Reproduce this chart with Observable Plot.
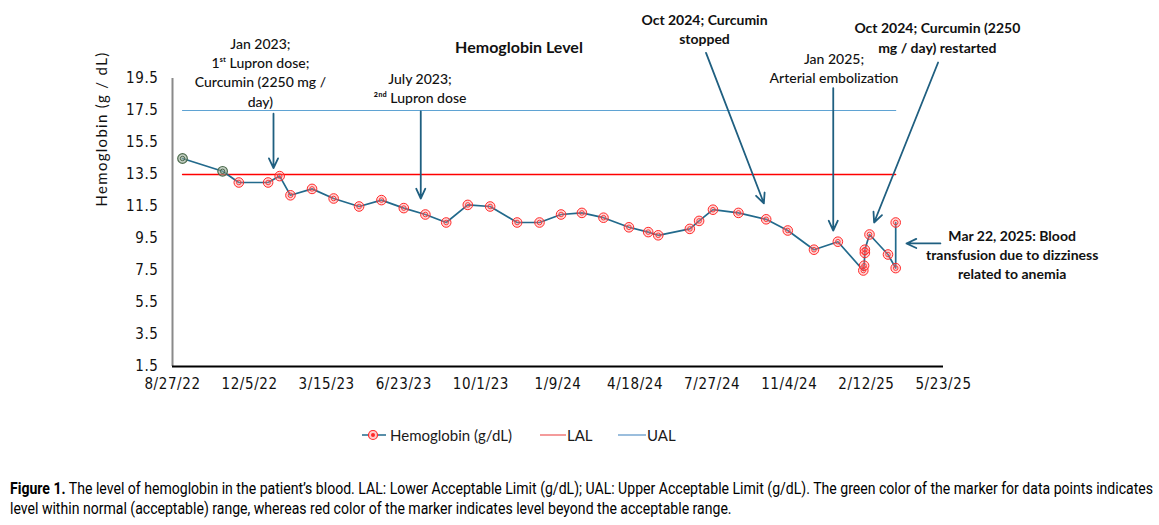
<!DOCTYPE html>
<html>
<head>
<meta charset="utf-8">
<script src="https://cdn.jsdelivr.net/npm/d3@7"></script>
<script src="https://cdn.jsdelivr.net/npm/@observablehq/plot@0.6"></script>
<style>
  html, body { margin: 0; padding: 0; background: #fff; }
  body { width: 1159px; height: 525px; position: relative; overflow: hidden; }
  #chart { position: absolute; left: 0; top: 0; }
  .leg { position: absolute; top: 425px; height: 20px; font-family: Lato, "Open Sans", sans-serif; font-size: 15px; color: #1a1a1a; line-height: 20px; white-space: nowrap; }
  .leg svg { position: absolute; top: 0; }
  .cap { position: absolute; left: 10px; font-family: Roboto, "Liberation Sans", sans-serif; font-size: 17px; line-height: 20px; color: #000; white-space: nowrap; transform-origin: 0 0; }
</style>
</head>
<body>
<div id="chart"></div>
<div class="leg" style="left:360px;width:160px;">
  <svg width="28" height="20" style="left:0"><line x1="2" y1="10" x2="26" y2="10" stroke="#226a8c" stroke-width="1.5"/><circle cx="13" cy="10" r="4.5" fill="#ffcccc" stroke="#ff2a2a" stroke-width="1.2"/><circle cx="13" cy="10" r="2" fill="#ff2a2a"/></svg>
  <span style="position:absolute;left:30px;">Hemoglobin (g/dL)</span>
</div>
<div class="leg" style="left:540px;width:60px;">
  <svg width="28" height="20" style="left:0"><line x1="0" y1="10" x2="26" y2="10" stroke="#f07a7a" stroke-width="1.5"/></svg>
  <span style="position:absolute;left:27px;">LAL</span>
</div>
<div class="leg" style="left:618px;width:60px;">
  <svg width="30" height="20" style="left:0"><line x1="0" y1="10" x2="28" y2="10" stroke="#7aa9d2" stroke-width="1.5"/></svg>
  <span style="position:absolute;left:29px;">UAL</span>
</div>
<div class="cap" id="cap1" style="top:478px;"><b>Figure 1.</b> The level of hemoglobin in the patient’s blood. LAL: Lower Acceptable Limit (g/dL); UAL: Upper Acceptable Limit (g/dL). The green color of the marker for data points indicates</div>
<div class="cap" id="cap2" style="top:498px;">level within normal (acceptable) range, whereas red color of the marker indicates level beyond the acceptable range.</div>
<script>
// ---- data ----
const dates = [
  "2022-09-09","2022-10-31","2022-11-21","2022-12-29","2023-01-13","2023-01-27",
  "2023-02-24","2023-03-24","2023-04-26","2023-05-25","2023-06-23","2023-07-21",
  "2023-08-17","2023-09-14","2023-10-13","2023-11-17","2023-12-16","2024-01-13",
  "2024-02-09","2024-03-08","2024-04-10","2024-05-05","2024-05-18","2024-06-28",
  "2024-07-10","2024-07-28","2024-08-30","2024-10-05","2024-11-02","2024-12-06",
  "2025-01-06","2025-02-08","2025-02-09","2025-02-10","2025-02-10","2025-02-16",
  "2025-03-12","2025-03-22","2025-03-22"
];
const hemoglobin = [
  14.5, 13.7, 13.0, 13.0, 13.4, 12.2,
  12.6, 12.0, 11.5, 11.9, 11.4, 11.0,
  10.5, 11.6, 11.5, 10.5, 10.5, 11.0,
  11.1, 10.8, 10.2, 9.9, 9.7, 10.1,
  10.6, 11.3, 11.1, 10.7, 10.0, 8.8,
  9.3, 7.5, 7.8, 8.6, 8.8, 9.75,
  8.5, 7.65, 10.5
];
const LAL = 13.5;
const UAL = 17.5;
const xDomain = ["2022-08-27", "2025-05-23"];
const xTickLabels = ["2022-08-27","2022-12-05","2023-03-15","2023-06-23","2023-10-01","2024-01-09","2024-04-18","2024-07-27","2024-11-04","2025-02-12","2025-05-23"];
const yTicks = [1.5, 3.5, 5.5, 7.5, 9.5, 11.5, 13.5, 15.5, 17.5, 19.5];
const chartTitle = "Hemoglobin Level";
const yLabel = "Hemoglobin (g / dL)";

const noteTexts = [
  "Jan 2023;\n1ˢᵗ Lupron dose;\nCurcumin (2250 mg /\nday)",
  "July 2023;\n²ⁿᵈ Lupron dose",
  "Oct 2024; Curcumin\nstopped",
  "Jan 2025;\nArterial embolization",
  "Oct 2024; Curcumin (2250\nmg / day) restarted",
  "Mar 22, 2025: Blood\ntransfusion due to dizziness\nrelated to anemia"
];
const noteDates = ["2022-12-19","2023-07-14","2024-07-17","2025-01-01","2025-05-15","2025-08-20"];
const noteValues = [19.94, 18.94, 22.62, 20.22, 22.1, 8.53];
const noteBold = [false, false, true, false, true, true];

const arrowFromDates = ["2023-01-05","2023-07-15","2024-07-19","2024-12-31","2025-05-16","2025-05-19"];
const arrowFromValues = [17.3, 17.45, 21.1, 18.9, 20.5, 9.19];
const arrowToDates = ["2023-01-05","2023-07-15","2024-10-02","2024-12-31","2025-02-22","2025-04-05"];
const arrowToValues = [13.9, 12.0, 11.7, 10.0, 10.5, 9.19];

// ---- build ----
const parse = d3.utcParse("%Y-%m-%d");
const table = dates.map((d, i) => ({date: parse(d), hb: hemoglobin[i]}));
const inRange = d => d.hb >= LAL && d.hb <= UAL;
const first = table[0].date, last = table[table.length - 1].date;
const limits = [{date: first, v: LAL}, {date: last, v: LAL}];
const uppers = [{date: first, v: UAL}, {date: last, v: UAL}];
const notes = noteTexts.map((t, i) => ({text: t, date: parse(noteDates[i]), v: noteValues[i], bold: noteBold[i]}));
const arrows = arrowFromDates.map((d, i) => ({x1: parse(d), y1: arrowFromValues[i], x2: parse(arrowToDates[i]), y2: arrowToValues[i]}));

const NARROW = '"Liberation Sans Narrow", "DejaVu Sans Condensed", sans-serif';
const HUMAN = 'Lato, "Open Sans", sans-serif';
const lineColor = "#226a8c";
const arrowColor = "#1f5f80";

const plot = Plot.plot({
  width: 1159,
  height: 400,
  marginTop: 78,
  marginBottom: 34,
  marginLeft: 172,
  marginRight: 216,
  style: {fontFamily: NARROW, fontSize: "15px", color: "#111", background: "#fff", overflow: "visible"},
  x: {type: "utc", domain: xDomain.map(parse), ticks: xTickLabels.map(parse), tickFormat: d3.utcFormat("%-m/%-d/%y"), tickSize: 0, tickPadding: 12, label: null},
  y: {domain: [1.5, 19.5], ticks: yTicks, tickFormat: d => d.toFixed(1), tickSize: 0, tickPadding: 14, label: null},
  marks: [
    Plot.ruleX([parse(xDomain[0])], {stroke: "#8a8a8a", strokeWidth: 2}),
    Plot.ruleY([1.5], {stroke: "#000", strokeWidth: 2}),
    Plot.line(uppers, {x: "date", y: "v", stroke: "#5fa3d3", strokeWidth: 1.2}),
    Plot.line(limits, {x: "date", y: "v", stroke: "#ff0000", strokeWidth: 1.3}),
    Plot.line(table, {x: "date", y: "hb", stroke: lineColor, strokeWidth: 1.7}),
    Plot.dot(table.filter(d => !inRange(d)), {x: "date", y: "hb", r: 4.8, stroke: "#ff2a2a", strokeWidth: 1, fill: "#ff9090", fillOpacity: 0.35}),
    Plot.dot(table.filter(d => !inRange(d)), {x: "date", y: "hb", r: 2.3, stroke: "#ff2a2a", strokeWidth: 0.9, fill: "none"}),
    Plot.dot(table.filter(inRange), {x: "date", y: "hb", r: 4.8, stroke: "#4d6b4d", strokeWidth: 1.2, fill: "#9aae9a", fillOpacity: 0.6}),
    Plot.dot(table.filter(inRange), {x: "date", y: "hb", r: 2.2, stroke: "#3e5a3e", strokeWidth: 0.9, fill: "none"}),
    Plot.arrow(arrows, {x1: "x1", y1: "y1", x2: "x2", y2: "y2", stroke: arrowColor, strokeWidth: 1.8, headLength: 9, headAngle: 50}),
    Plot.text(notes.filter(d => !d.bold), {x: "date", y: "v", text: "text", fontFamily: HUMAN, fontSize: 14, fontWeight: 500, lineHeight: 1.38, fill: "#111", textAnchor: "middle"}),
    Plot.text(notes.filter(d => d.bold), {x: "date", y: "v", text: "text", fontFamily: HUMAN, fontSize: 14, fontWeight: 700, lineHeight: 1.36, fill: "#111", textAnchor: "middle"}),
    Plot.text([chartTitle], {frameAnchor: "top", dx: -39, dy: -37, fontFamily: HUMAN, fontSize: 16, fontWeight: 700, fill: "#111"}),
    Plot.text([yLabel], {frameAnchor: "left", dx: -70, dy: -16, rotate: -90, fontFamily: HUMAN, fontSize: 15, fill: "#111"})
  ]
});
document.getElementById("chart").appendChild(plot);
d3.select(plot).selectAll("text").filter(function() { return this.textContent === yLabel; }).attr("letter-spacing", "1.3px");
d3.select(plot).selectAll("g[aria-label='x-axis tick label'] text, g[aria-label='y-axis tick label'] text").attr("letter-spacing", "0.6px");

// condense the caption horizontally to the reference width (narrow font look)
const c1 = document.getElementById("cap1"), c2 = document.getElementById("cap2");
const k = 1143 / c1.getBoundingClientRect().width;
c1.style.transform = `scaleX(${k})`;
c2.style.transform = `scaleX(${k})`;
</script>
</body>
</html>
